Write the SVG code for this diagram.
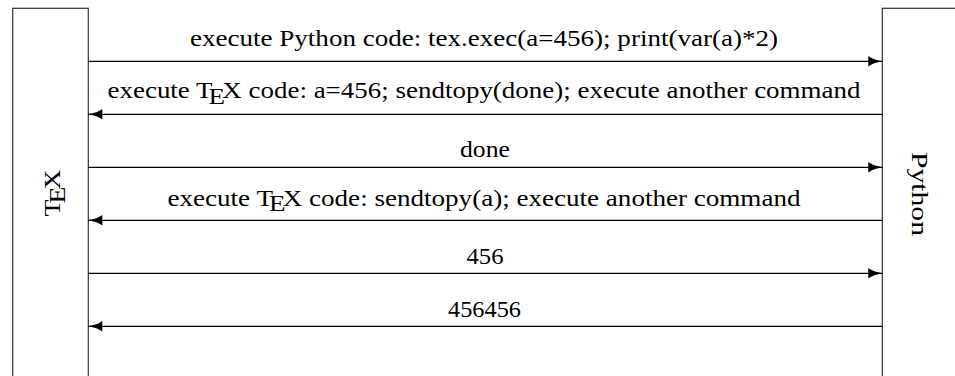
<svg xmlns="http://www.w3.org/2000/svg" width="955" height="376" viewBox="0 0 955 376">
  <style>
    .box { fill: #ffffff; stroke: #333333; stroke-width: 1.2; }
    .conn { stroke: #000000; stroke-width: 1.2; fill: none; }
    .lbl { font-family: "Liberation Serif", "DejaVu Serif", serif; font-size: 24px; fill: #000000; text-anchor: middle; }
  </style>
  <defs>
    <marker id="arrow" markerUnits="userSpaceOnUse" markerWidth="16" markerHeight="12" viewBox="0 0 16 12" refX="15" refY="6" orient="auto">
      <path d="M1,0.8 Q6,4.5 15,6 Q6,7.5 1,11.2 Z" fill="#000000"/>
    </marker>
  </defs>
  <rect width="955" height="376" fill="#ffffff"/>

  <g id="tex-node">
    <rect class="box" x="12.7" y="8.3" width="75.6" height="400"/>
    <text class="lbl" transform="translate(60,193) rotate(-90)" textLength="47" lengthAdjust="spacingAndGlyphs">T<tspan dx="-3.5" dy="5.2">E</tspan><tspan dx="-2.5" dy="-5.2">X</tspan></text>
  </g>

  <g id="python-node">
    <rect class="box" x="882.3" y="8.3" width="100" height="400"/>
    <text class="lbl" transform="translate(912,194) rotate(90)" textLength="84" lengthAdjust="spacingAndGlyphs">Python</text>
  </g>

  <g id="connectors">
    <line class="conn" x1="88.3" y1="61.3" x2="882.3" y2="61.3" marker-end="url(#arrow)"/>
    <text class="lbl" x="484" y="45.7" textLength="588" lengthAdjust="spacingAndGlyphs">execute Python code: tex.exec(a=456); print(var(a)*2)</text>

    <line class="conn" x1="882.3" y1="114.3" x2="88.3" y2="114.3" marker-end="url(#arrow)"/>
    <text class="lbl" x="484" y="98.3" textLength="753" lengthAdjust="spacingAndGlyphs">execute T<tspan dx="-3.5" dy="5.2">E</tspan><tspan dx="-2.5" dy="-5.2">X</tspan> code: a=456; sendtopy(done); execute another command</text>

    <line class="conn" x1="88.3" y1="167.3" x2="882.3" y2="167.3" marker-end="url(#arrow)"/>
    <text class="lbl" x="485" y="157" textLength="50" lengthAdjust="spacingAndGlyphs">done</text>

    <line class="conn" x1="882.3" y1="220.3" x2="88.3" y2="220.3" marker-end="url(#arrow)"/>
    <text class="lbl" x="484" y="205.5" textLength="633" lengthAdjust="spacingAndGlyphs">execute T<tspan dx="-3.5" dy="5.2">E</tspan><tspan dx="-2.5" dy="-5.2">X</tspan> code: sendtopy(a); execute another command</text>

    <line class="conn" x1="88.3" y1="273.3" x2="882.3" y2="273.3" marker-end="url(#arrow)"/>
    <text class="lbl" x="485" y="264" textLength="37" lengthAdjust="spacingAndGlyphs">456</text>

    <line class="conn" x1="882.3" y1="326.3" x2="88.3" y2="326.3" marker-end="url(#arrow)"/>
    <text class="lbl" x="484.5" y="317" textLength="73" lengthAdjust="spacingAndGlyphs">456456</text>
  </g>
</svg>
